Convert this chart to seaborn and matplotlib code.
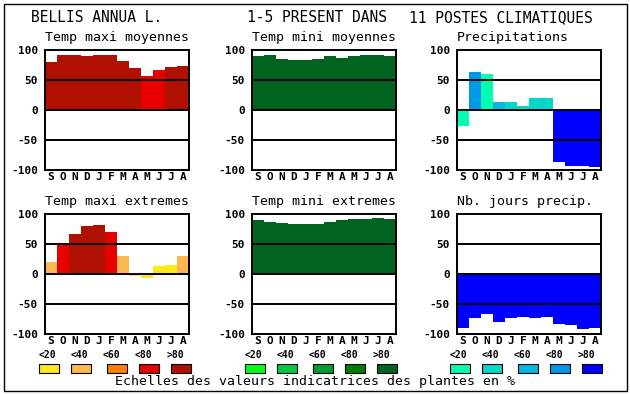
import matplotlib
matplotlib.use("Agg")
import matplotlib.pyplot as plt
from matplotlib.patches import Rectangle
import seaborn as sns
import pandas as pd

# ---------------- data ----------------
months = ["S", "O", "N", "D", "J", "F", "M", "A", "M", "J", "J", "A"]

tmax_moy = [80, 92, 92, 90, 92, 92, 82, 70, 57, 67, 72, 74]
tmax_moy_cls = [4, 4, 4, 4, 4, 4, 4, 4, 3, 3, 4, 4]

tmin_moy = [90, 92, 85, 84, 84, 85, 90, 87, 90, 92, 92, 90]
tmin_moy_cls = [4, 4, 4, 4, 4, 4, 4, 4, 4, 4, 4, 4]

precip = [-26, 64, 60, 14, 14, 7, 20, 20, -86, -93, -93, -95]
precip_cls = [0, 3, 0, 2, 1, 1, 1, 1, 4, 4, 4, 4]

tmax_ext = [20, 50, 67, 80, 82, 70, 30, -4, -6, 14, 15, 30]
tmax_ext_cls = [1, 3, 4, 4, 4, 3, 1, 0, 0, 0, 0, 1]

tmin_ext = [90, 87, 85, 84, 84, 84, 87, 90, 92, 92, 94, 92]
tmin_ext_cls = [4, 4, 4, 4, 4, 4, 4, 4, 4, 4, 4, 4]

nbj = [-90, -73, -66, -80, -73, -71, -74, -71, -84, -85, -92, -90]
nbj_cls = [4, 4, 4, 4, 4, 4, 4, 4, 4, 4, 4, 4]

reds = ["#FFE818", "#FFB850", "#FF8000", "#E80000", "#B01000"]
greens = ["#00FF18", "#00C840", "#009C30", "#007C00", "#006420"]
blues = ["#00FFB0", "#00D8C8", "#00B8E0", "#0098E8", "#0000FF"]

scale_labels = ["<20", "<40", "<60", "<80", ">80"]
yticks = [-100, -50, 0, 50, 100]

title_left = "BELLIS ANNUA L."
title_mid = "1-5 PRESENT DANS"
title_right = "11 POSTES CLIMATIQUES"
footer = "Echelles des valeurs indicatrices des plantes en %"

panels = [
    ("Temp maxi moyennes", tmax_moy, tmax_moy_cls, reds, (45, 50)),
    ("Temp mini moyennes", tmin_moy, tmin_moy_cls, greens, (252, 50)),
    ("Precipitations", precip, precip_cls, blues, (457, 50)),
    ("Temp maxi extremes", tmax_ext, tmax_ext_cls, reds, (45, 214)),
    ("Temp mini extremes", tmin_ext, tmin_ext_cls, greens, (252, 214)),
    ("Nb. jours precip.", nbj, nbj_cls, blues, (457, 214)),
]

# ---------------- figure ----------------
W, H = 630, 394
plt.rcParams["font.family"] = ["DejaVu Sans Mono", "DejaVu Sans"]
fig = plt.figure(figsize=(W / 100, H / 100), dpi=100)
fig.patch.set_facecolor("white")


def fx(px):
    return px / W


def fy(py):
    return 1 - py / H


AW, AH = 144, 120
for name, vals, cls, pal, (lx, ty) in panels:
    ax = fig.add_axes([fx(lx), fy(ty + AH), AW / W, AH / H])
    keys = [str(i) for i in range(len(vals))]
    df = pd.DataFrame({"key": keys, "val": vals})
    cmap = {k: pal[c] for k, c in zip(keys, cls)}
    sns.barplot(data=df, x="key", y="val", hue="key", palette=cmap,
                order=keys, width=1.0, linewidth=0, errorbar=None,
                legend=False, ax=ax, saturation=1)
    ax.set_xlim(-0.5, len(vals) - 0.5)
    ax.set_ylim(-100, 100)
    ax.set_yticks(yticks)
    ax.set_yticklabels([str(t) for t in yticks], fontsize=8, fontweight="bold")
    ax.set_xticks(range(len(vals)))
    ax.set_xticklabels(months, fontsize=8, fontweight="bold")
    ax.tick_params(axis="y", length=0, pad=5)
    ax.tick_params(axis="x", length=0, pad=1.5)
    ax.set_xlabel("")
    ax.set_ylabel("")
    for y in (50, 0, -50):
        ax.axhline(y, color="black", lw=1.4, zorder=3)
    for s in ax.spines.values():
        s.set_visible(True)
        s.set_color("black")
        s.set_linewidth(1.4)
        s.set_zorder(4)
    ax.set_facecolor("white")
    fig.text(fx(lx), fy(ty - 8.5), name, fontsize=9.5, ha="left",
             va="baseline", color="black")

# titles
fig.text(fx(31), fy(18), title_left, fontsize=10.5, ha="left", va="center")
fig.text(fx(247), fy(18), title_mid, fontsize=10.5, ha="left", va="center")
fig.text(fx(409), fy(18), title_right, fontsize=10.5, ha="left", va="center")

# scale legends
group_starts = [39, 245, 450]
label_off = [0, 32, 64, 96, 128]
box_off = [0, 32, 68, 100, 132]
for gx, pal in zip(group_starts, [reds, greens, blues]):
    for i in range(5):
        fig.text(fx(gx + label_off[i]), fy(354.5), scale_labels[i], fontsize=7,
                 fontweight="bold", ha="left", va="center")
        fig.patches.append(Rectangle((fx(gx + box_off[i]), fy(373)), 20 / W, 9 / H,
                                     transform=fig.transFigure, facecolor=pal[i],
                                     edgecolor="black", lw=0.8))

fig.text(fx(315), fy(382), footer, fontsize=9.5, ha="center", va="center")

# outer frame
fig.patches.append(Rectangle((fx(4), fy(390.5)), 623 / W, 386.5 / H,
                             transform=fig.transFigure, facecolor="none",
                             edgecolor="black", lw=1.0))

fig.savefig("out.png", dpi=100, facecolor="white")
